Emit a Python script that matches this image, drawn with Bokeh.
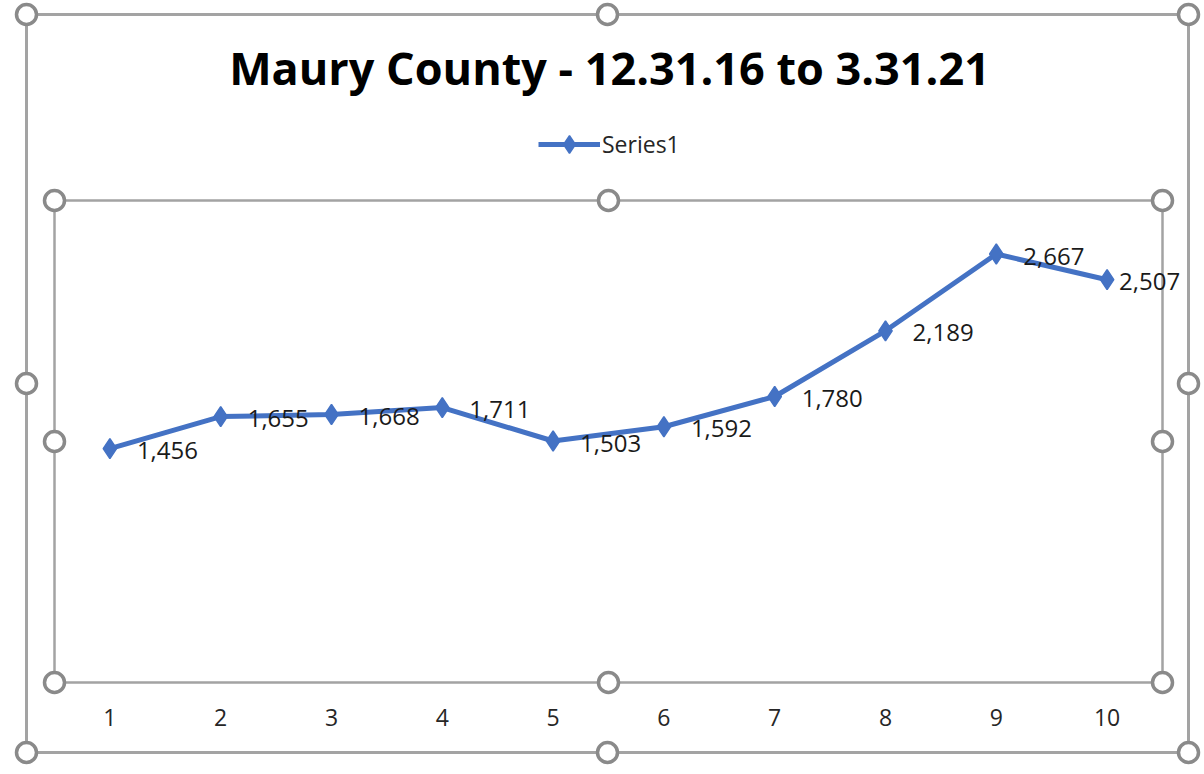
from bokeh.plotting import figure
from bokeh.models import (ColumnDataSource, Label, LabelSet, Legend, LegendItem,
                          BoxAnnotation, FixedTicker, Range1d)
from bokeh.core.properties import value
from bokeh.embed import file_html
from bokeh.resources import INLINE

# ---- data ----
periods = [1, 2, 3, 4, 5, 6, 7, 8, 9, 10]
counts = [1456, 1655, 1668, 1711, 1503, 1592, 1780, 2189, 2667, 2507]
tick_labels = ["1", "2", "3", "4", "5", "6", "7", "8", "9", "10"]
title_text = "Maury County - 12.31.16 to 3.31.21"
series_name = "Series1"

# ---- styles / layout (pixels) ----
BLUE = "#4472C4"
GRAY = "#a3a3a3"
FONT = "Open Sans"
W, H = 1204, 774
PA_L, PA_R, PA_T, PA_B = 54, 1162, 200, 682      # plot-area box
CH_L, CH_R, CH_T, CH_B = 26, 1188, 14, 752       # chart-area box
X0, X1 = 0.5, 10.5
Y0, Y1 = 0, 3000

sx = (X1 - X0) / (PA_R - PA_L)
sy = (Y1 - Y0) / (PA_B - PA_T)


def px_x(px):
    return X0 + (px - PA_L) * sx


def px_y(py):
    return Y0 + (PA_B - py) * sy


label_text = [f"{v:,}" for v in counts]
x_off = [27] * (len(counts) - 1) + [12]
src = ColumnDataSource(dict(x=periods, y=counts, t=label_text, xo=x_off))

p = figure(width=W, height=H, output_backend="svg", toolbar_location=None,
           x_range=Range1d(px_x(0), px_x(W)), y_range=Range1d(px_y(H), px_y(0)),
           min_border=0)
p.background_fill_color = "white"
p.border_fill_color = "white"
p.outline_line_alpha = 0
p.grid.visible = False
p.yaxis.visible = False

ax = p.xaxis[0]
ax.fixed_location = Y0
ax.ticker = FixedTicker(ticks=periods)
ax.major_label_overrides = {p_: t for p_, t in zip(periods, tick_labels)}
ax.axis_line_alpha = 0
ax.major_tick_line_alpha = 0
ax.minor_tick_line_alpha = 0
ax.major_label_standoff = 20
ax.major_label_text_font = FONT
ax.major_label_text_font_size = "23px"
ax.major_label_text_color = "#262626"

# chart area and plot area borders
p.add_layout(BoxAnnotation(left=px_x(CH_L), right=px_x(CH_R),
                           bottom=px_y(CH_B), top=px_y(CH_T),
                           fill_alpha=0, line_color=GRAY, line_alpha=1,
                           line_width=3, level="underlay"))
p.add_layout(BoxAnnotation(left=X0, right=X1, bottom=Y0, top=Y1,
                           fill_alpha=0, line_color=GRAY, line_alpha=1,
                           line_width=2.5, level="underlay"))

line_r = p.line("x", "y", source=src, line_color=BLUE, line_width=5)
mark_r = p.scatter("x", "y", source=src, marker="diamond", size=20,
                   fill_color=BLUE, line_color=BLUE, line_width=1.5)

labels = LabelSet(x="x", y="y", text="t", source=src, x_offset="xo", y_offset=-2,
                  text_font=value(FONT), text_font_size="24px",
                  text_color="#1a1a1a", text_align="left",
                  text_baseline="middle")
p.add_layout(labels)

title = Label(x=px_x(609), y=px_y(67), text=title_text,
              text_font=FONT, text_font_style="bold", text_font_size="45px",
              text_color="black", text_align="center", text_baseline="middle")
p.add_layout(title)

legend = Legend(items=[LegendItem(label=series_name, renderers=[line_r, mark_r])],
                location=(538, H - 166), orientation="horizontal",
                glyph_width=62, glyph_height=44, label_standoff=2,
                padding=0, margin=0, border_line_alpha=0,
                background_fill_alpha=0, label_text_font=FONT,
                label_text_font_size="23px", label_text_color="#262626",
                label_height=44)
p.add_layout(legend)

# selection handles of the chart area and plot area
hx, hy = [], []
for (l, r, t, b) in [(CH_L, CH_R, CH_T, CH_B), (PA_L, PA_R, PA_T, PA_B)]:
    mx, my = (l + r) / 2, (t + b) / 2
    for (a, c) in [(l, t), (mx, t), (r, t), (l, my), (r, my), (l, b), (mx, b), (r, b)]:
        hx.append(px_x(a))
        hy.append(px_y(c))
p.scatter(hx, hy, marker="circle", size=20, fill_color="white",
          line_color="#8a8a8a", line_width=3.5)

open("out.html", "w").write(file_html(p, INLINE))
